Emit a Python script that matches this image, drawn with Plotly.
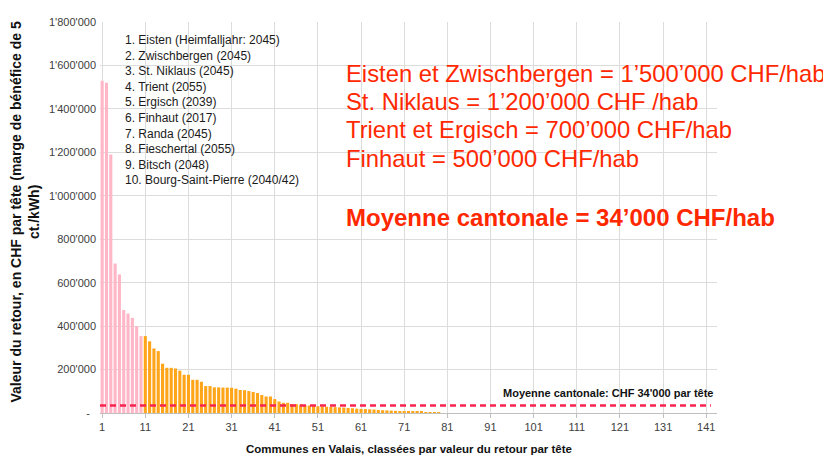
import plotly.graph_objects as go

# Data (CHF per head, communes ranked)
rank = list(range(1, 80))
values = [
    1530000, 1520000, 1190000, 688000, 638000, 474000, 458000, 438000, 400000, 354000,
    354000, 330000, 297000, 285000, 227000, 208000, 208000, 205000, 195000, 176000,
    176000, 153000, 153000, 144000, 124000, 124000, 118000, 118000, 117000, 117000,
    116000, 112000, 106000, 105000, 101000, 97000, 92000, 83000, 76000, 76000,
    64000, 53000, 47000, 47000, 41000, 41000, 38000, 36000, 34000, 32000,
    31000, 30000, 29000, 28000, 27000, 26000, 25000, 23000, 22000, 20000,
    19000, 18000, 17000, 16000, 14000, 13000, 12000, 11000, 10000, 9000,
    8000, 7000, 6000, 5000, 5000, 4000, 3000, 3000, 2000,
]
top_n = 10
mean_value = 34000
n_communes = 143

x_tickvals = list(range(1, 142, 10))
y_tickvals = list(range(0, 1800001, 200000))
y_ticktext = ["-\u00a0\u00a0"] + ["{:,}".format(v).replace(",", "'") for v in y_tickvals[1:]]

top_list = [
    "1. Eisten (Heimfalljahr: 2045)",
    "2. Zwischbergen (2045)",
    "3. St. Niklaus (2045)",
    "4. Trient (2055)",
    "5. Ergisch (2039)",
    "6. Finhaut (2017)",
    "7. Randa (2045)",
    "8. Fieschertal (2055)",
    "9. Bitsch (2048)",
    "10. Bourg-Saint-Pierre (2040/42)",
]
red_lines = [
    "Eisten et Zwischbergen = 1’500’000 CHF/hab",
    "St. Niklaus = 1’200’000 CHF /hab",
    "Trient et Ergisch = 700’000 CHF/hab",
    "Finhaut = 500’000 CHF/hab",
]
red_bold = "Moyenne cantonale = 34’000 CHF/hab"
mean_label = "Moyenne cantonale: CHF 34'000 par tête"
y_title = "Valeur du retour, en CHF par tête (marge de bénéfice de 5<br>ct./kWh)"
x_title = "Communes en Valais, classées par valeur du retour par tête"

PINK = "#FFB6C6"
ORANGE = "#FFA51A"
colors = [PINK if r <= top_n else ORANGE for r in rank]

FONT = "Liberation Sans, Arial, sans-serif"

# page geometry (the figure sits at an 8px body offset)
OFF = 8
PAGE_W, PAGE_H = 831, 457
PLOT_L, PLOT_R, PLOT_T, PLOT_B = 100, 717, 22, 413
W, H = PAGE_W - OFF, PAGE_H - OFF
L, T = PLOT_L - OFF, PLOT_T - OFF
R, B = PAGE_W - PLOT_R, PAGE_H - PLOT_B
pw, ph = PLOT_R - PLOT_L, PLOT_B - PLOT_T


def px_x(px):
    return (px - PLOT_L) / pw


def px_y(py):
    return (PLOT_B - py) / ph


fig = go.Figure()
fig.add_trace(go.Bar(x=rank, y=values, marker=dict(color=colors, line=dict(width=0)),
                     hoverinfo="x+y"))

fig.add_shape(type="line", xref="paper", yref="y", x0=0, x1=0.99,
              y0=mean_value, y1=mean_value,
              line=dict(color="#F7234F", width=2.5, dash="6px,4px"))

annotations = []
annotations.append(dict(text="<br>".join(top_list), xref="paper", yref="paper",
                        x=px_x(123), y=px_y(31), xanchor="left", yanchor="top",
                        align="left", showarrow=False,
                        font=dict(family=FONT, size=12, color="#1a1a1a")))
red_y = [73, 102, 129, 158]
for txt, yy in zip(red_lines, red_y):
    annotations.append(dict(text=txt, xref="paper", yref="paper", x=px_x(344), y=px_y(yy),
                            xanchor="left", yanchor="middle", showarrow=False,
                            font=dict(family=FONT, size=23.8, color="#FF2800")))
annotations.append(dict(text="<b>" + red_bold + "</b>", xref="paper", yref="paper",
                        x=px_x(344), y=px_y(217), xanchor="left", yanchor="middle",
                        showarrow=False, font=dict(family=FONT, size=24, color="#FF2800")))
annotations.append(dict(text="<b>" + mean_label + "</b>", xref="paper", yref="paper",
                        x=px_x(715), y=px_y(393), xanchor="right", yanchor="middle",
                        showarrow=False, font=dict(family=FONT, size=11, color="#111111")))
annotations.append(dict(text="<b>" + y_title + "</b>", xref="paper", yref="paper",
                        x=px_x(24.5), y=px_y(212), xanchor="center", yanchor="middle",
                        textangle=-90, showarrow=False,
                        font=dict(family=FONT, size=14, color="#111111")))
annotations.append(dict(text="<b>" + x_title + "</b>", xref="paper", yref="paper",
                        x=0.5, y=px_y(449), xanchor="center", yanchor="middle",
                        showarrow=False, font=dict(family=FONT, size=11.5, color="#111111")))

fig.update_layout(
    width=W, height=H,
    margin=dict(l=L, r=R, t=T, b=B, autoexpand=False),
    paper_bgcolor="white", plot_bgcolor="white",
    showlegend=False, bargap=0.28,
    font=dict(family=FONT, size=11, color="#404040"),
    annotations=annotations,
)
fig.update_xaxes(range=[0.5, n_communes + 0.5], tickmode="array", tickvals=x_tickvals,
                 showgrid=True, gridcolor="#DCDCDC", gridwidth=1,
                 showline=True, linecolor="#BFBFBF", linewidth=1,
                 ticks="outside", ticklen=4, tickcolor="#BFBFBF",
                 tickfont=dict(size=11, color="#404040"), zeroline=False)
fig.update_yaxes(range=[0, 1800000], tickmode="array", tickvals=y_tickvals, ticktext=y_ticktext,
                 showgrid=True, gridcolor="#DCDCDC", gridwidth=1,
                 showline=False, ticks="", ticklabelstandoff=3,
                 tickfont=dict(size=11, color="#404040"), zeroline=False)

fig.write_html("out.html")
